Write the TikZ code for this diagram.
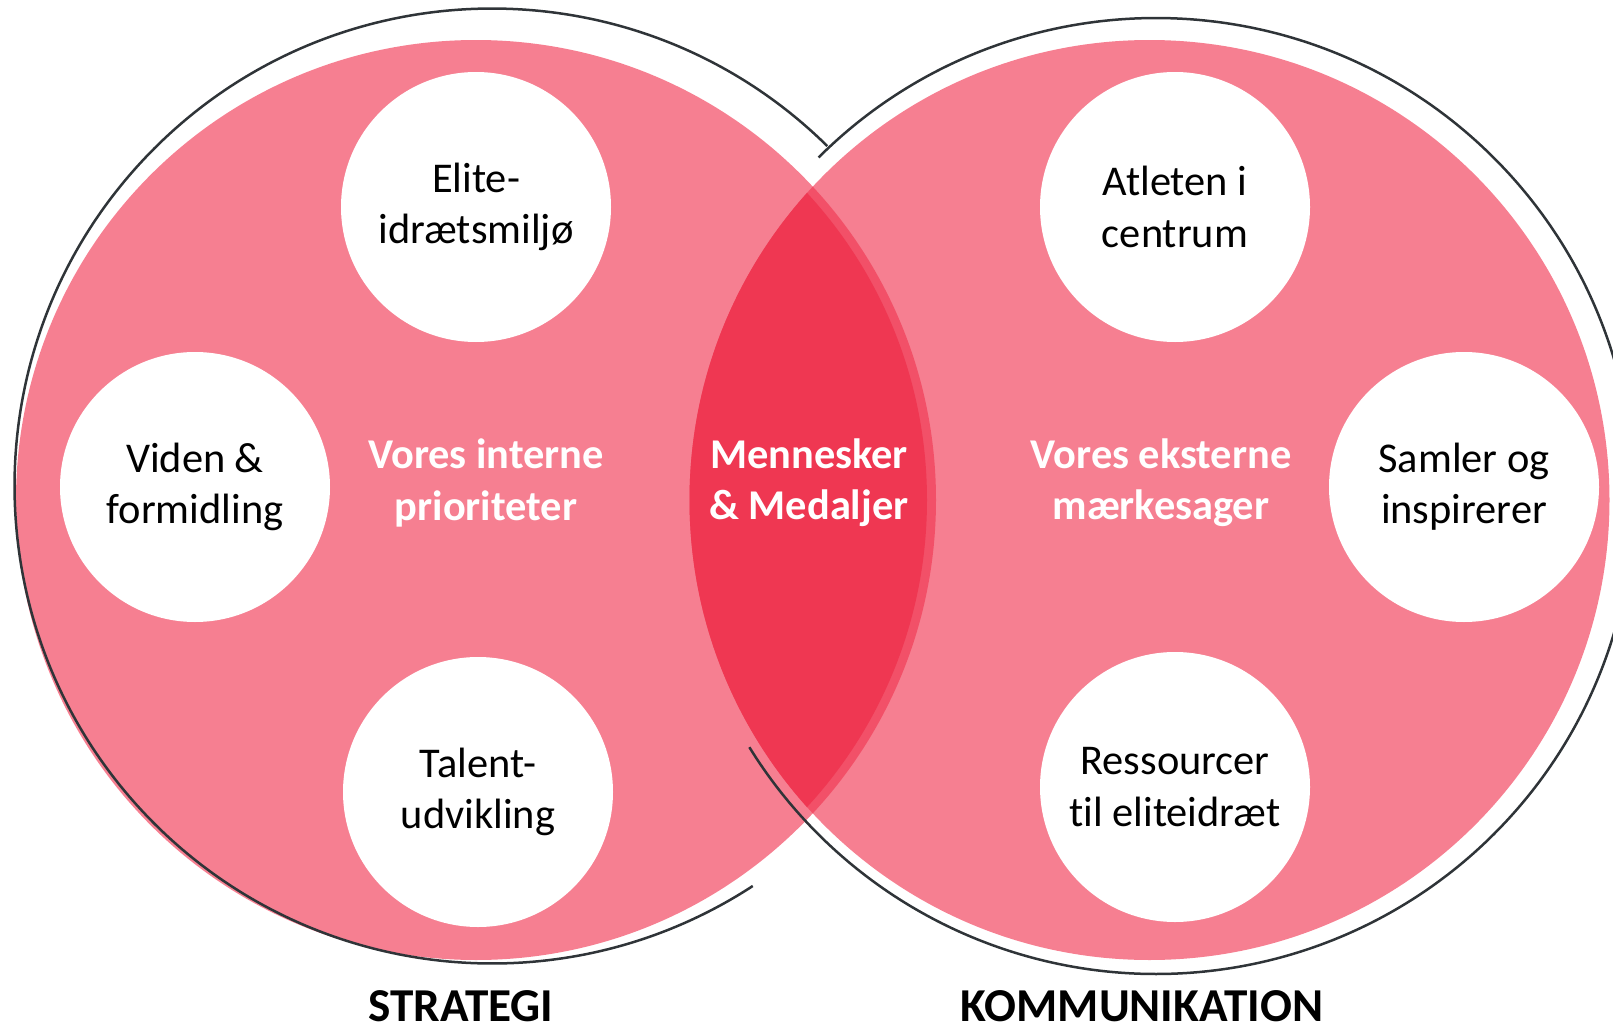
\documentclass[tikz,border=0pt]{standalone}
\usepackage{fontspec}
\setmainfont{Carlito}[Ligatures=NoCommon]
\definecolor{pinkfill}{RGB}{246,127,145}
\definecolor{lensdark}{RGB}{239,55,82}
\definecolor{lenslight}{RGB}{242,80,104}
\definecolor{ringcol}{RGB}{47,52,56}
\begin{document}
\begin{tikzpicture}[x=0.5pt,y=0.5pt,
  bubble/.style={circle, fill=white, minimum size=135pt, inner sep=0pt, align=center, font=\fontsize{21.2pt}{25.6pt}\selectfont},
  inlabel/.style={text=white, align=center, inner sep=0pt, font=\bfseries\fontsize{21.2pt}{25.6pt}\selectfont},
  title/.style={font=\bfseries\fontsize{23.6pt}{28pt}\selectfont, anchor=base, inner sep=0pt},
  ring/.style={draw=ringcol, line width=1.25pt}]
\useasboundingbox (0,0) rectangle (1613,-1033);
\fill[pinkfill] (476,-500) circle (460);
\fill[pinkfill] (1149.5,-500) circle (460);
\begin{scope}
\clip (476,-500) circle (460);
\fill[lenslight] (1149.5,-500) circle (460);
\end{scope}
\begin{scope}
\clip (474,-500) circle (453);
\fill[lensdark] (1149.5,-500) circle (460);
\end{scope}
\draw[ring] (492,-486) ++(45.4:477.5) arc[start angle=45.4, end angle=303.1, radius=477.5];
\draw[ring] (1156,-496) ++(134.9:478) arc[start angle=134.9, end angle=-148.3, radius=478];
\node[bubble] (elite) at (476,-207) {Elite-\\idrætsmiljø};
\node[bubble] (viden) at (195,-487) {Viden \&\\formidling};
\node[bubble] (talent) at (478,-792) {Talent-\\udvikling};
\node[bubble] (atlet) at (1175,-207) {Atleten i\\centrum};
\node[bubble] (samler) at (1464,-487) {Samler og\\inspirerer};
\node[bubble] (ressource) at (1175,-787) {Ressourcer\\til eliteidræt};
\node[inlabel] (intern) at (486,-483) {Vores interne\\prioriteter};
\node[inlabel] (menn) at (809,-483) {Mennesker\\\& Medaljer};
\node[inlabel] (ekstern) at (1161,-483) {Vores eksterne\\mærkesager};
\node[title] (strategi) at (461,-1021) {STRATEGI};
\node[title] (komm) at (1142,-1021) {KOMMUNIKATION};
\end{tikzpicture}
\end{document}
